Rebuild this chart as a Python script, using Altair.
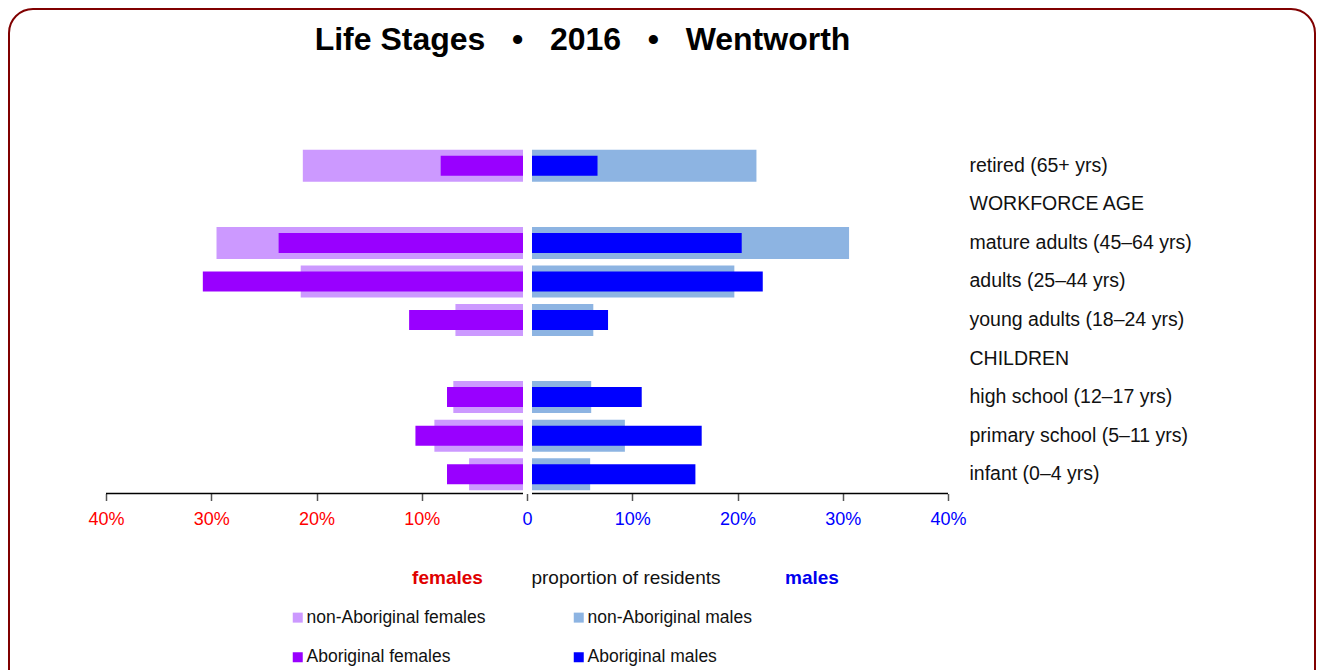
import altair as alt
import pandas as pd

FONT = "Liberation Sans"

stages = [
    "retired (65+ yrs)",
    "WORKFORCE AGE",
    "mature adults (45–64 yrs)",
    "adults (25–44 yrs)",
    "young adults (18–24 yrs)",
    "CHILDREN",
    "high school (12–17 yrs)",
    "primary school (5–11 yrs)",
    "infant (0–4 yrs)",
]
data_stages = [
    "retired (65+ yrs)",
    "mature adults (45–64 yrs)",
    "adults (25–44 yrs)",
    "young adults (18–24 yrs)",
    "high school (12–17 yrs)",
    "primary school (5–11 yrs)",
    "infant (0–4 yrs)",
]
fem_nonab = [21.3, 29.5, 21.5, 6.8, 7.0, 8.8, 5.5]
fem_ab = [8.2, 23.6, 30.8, 11.2, 7.6, 10.6, 7.6]
male_nonab = [21.8, 30.6, 19.7, 6.3, 6.1, 9.3, 6.0]
male_ab = [6.7, 20.4, 22.4, 7.7, 10.9, 16.6, 16.0]

groups = ["non-Aboriginal females", "non-Aboriginal males", "Aboriginal females", "Aboriginal males"]
colors = ["#cc99ff", "#8db4e2", "#9900ff", "#0000ff"]
tick_values = [-40, -30, -20, -10, 0, 10, 20, 30, 40]
title_text = "Life Stages\u00a0\u00a0\u00a0•\u00a0\u00a0\u00a02016\u00a0\u00a0\u00a0•\u00a0\u00a0\u00a0Wentworth"

rows = []
for s, a, b, c, d in zip(data_stages, fem_nonab, fem_ab, male_nonab, male_ab):
    rows.append(dict(stage=s, group=groups[0], sex="F", lo=-a, hi=0))
    rows.append(dict(stage=s, group=groups[1], sex="M", lo=0, hi=c))
    rows.append(dict(stage=s, group=groups[2], sex="F", lo=-b, hi=0))
    rows.append(dict(stage=s, group=groups[3], sex="M", lo=0, hi=d))
df = pd.DataFrame(rows)

x_axis = alt.Axis(
    values=tick_values, domain=False, grid=False, title=None,
    tickSize=7, tickColor="#555555", tickWidth=1.5,
    labelExpr="datum.value == 0 ? '0' : abs(datum.value) + '%'",
    labelColor={"condition": {"test": "datum.value < 0", "value": "#ff0000"}, "value": "#0000ff"},
    labelFont=FONT, labelFontSize=18, labelPadding=10, labelFlush=False, labelOverlap=False,
)
y_axis = alt.Axis(
    orient="right", domain=False, ticks=False, grid=False, title=None,
    labelPadding=21, labelFont=FONT, labelFontSize=19.5, labelColor="#111111",
    labelLimit=400, labelAlign="left",
)
x_scale = alt.Scale(domain=[-40, 40], nice=False, zero=False)
y_scale = alt.Scale(domain=stages, paddingInner=0, paddingOuter=0)
color_scale = alt.Scale(domain=groups, range=colors)
legend = alt.Legend(
    orient="none", legendX=183, legendY=462, columns=2, direction="horizontal",
    title=None, symbolType="square", symbolSize=100, symbolStrokeWidth=0,
    labelFont=FONT, labelFontSize=17.5, labelColor="#111111", labelOffset=0,
    columnPadding=84, rowPadding=21, padding=0, labelLimit=400,
)

base = alt.Chart(df)

def bars(group, size, female):
    kw = {"x2Offset": -4} if female else {"xOffset": 5}
    return base.transform_filter(alt.datum.group == group).mark_bar(size=size, **kw).encode(
        x=alt.X("lo:Q", scale=x_scale, axis=x_axis),
        x2="hi:Q",
        y=alt.Y("stage:N", scale=y_scale, axis=y_axis),
        color=alt.Color("group:N", scale=color_scale, legend=legend),
    )

layers = [
    bars(groups[0], 32, True),
    bars(groups[1], 32, False),
    bars(groups[2], 20, True),
    bars(groups[3], 20, False),
]

axis_lines = pd.DataFrame({"lo": [-40, 0], "hi": [0, 40], "sex": ["F", "M"]})
rule_f = alt.Chart(axis_lines).transform_filter(alt.datum.sex == "F").mark_rule(
    color="black", strokeWidth=1.5, x2Offset=-4
).encode(x=alt.X("lo:Q", scale=x_scale, axis=x_axis), x2="hi:Q", y=alt.value(347))
rule_m = alt.Chart(axis_lines).transform_filter(alt.datum.sex == "M").mark_rule(
    color="black", strokeWidth=1.5, xOffset=5
).encode(x=alt.X("lo:Q", scale=x_scale, axis=x_axis), x2="hi:Q", y=alt.value(347))

def note(text, x, y, color, weight, size):
    return alt.Chart(pd.DataFrame({"t": [text]})).mark_text(
        font=FONT, fontSize=size, fontWeight=weight, color=color, align="center", baseline="alphabetic"
    ).encode(text="t:N", x=alt.value(x), y=alt.value(y))

notes = [
    note("females", 341.5, 437.5, "#e00000", "bold", 19),
    note("proportion of residents", 520, 437.5, "#111111", "normal", 19),
    note("males", 706, 437.5, "#0000ee", "bold", 19),
    note(title_text, 476.5, -96.5, "black", "bold", 32),
]

border = alt.Chart(pd.DataFrame({"b": [0]})).mark_rect(
    filled=False, stroke="#800000", strokeWidth=2, cornerRadius=24
).encode(x=alt.value(-97), x2=alt.value(1209), y=alt.value(-137.5), y2=alt.value(620))

chart = alt.layer(border, *layers, rule_f, rule_m, *notes).properties(
    width=842, height=347,
    background="white",
    autosize=alt.AutoSizeParams(type="none"),
    padding={"left": 98, "top": 138.5, "right": 368, "bottom": 176.5},
).configure_view(stroke="transparent", strokeWidth=0)

chart.save("out.html", embed_options={"renderer": "svg", "actions": False})
